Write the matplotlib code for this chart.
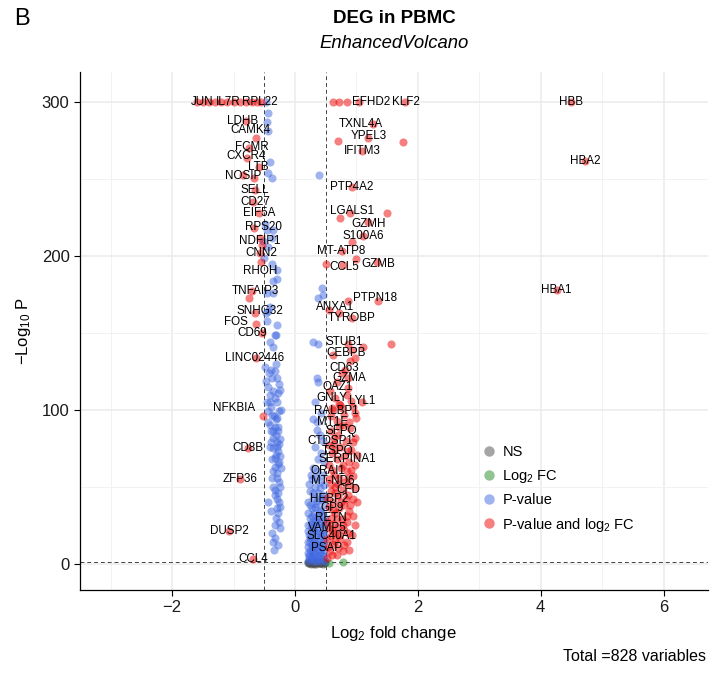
import matplotlib
matplotlib.use('Agg')
import matplotlib.pyplot as plt
from matplotlib.lines import Line2D

plt.rcParams['font.family'] = ['Liberation Sans', 'DejaVu Sans']
plt.rcParams['mathtext.fontset'] = 'custom'
plt.rcParams['mathtext.rm'] = 'Liberation Sans'
plt.rcParams['mathtext.it'] = 'Liberation Sans:italic'

# --- data (log2 fold change, -log10 p) ---
# NS (grey)
ns_x = [0.21, 0.23, 0.25, 0.27, 0.29, 0.31, 0.33, 0.35, 0.37, 0.39, 0.41, 0.43, 0.45, 0.47, 0.49,
        0.22, 0.26, 0.30, 0.34, 0.38, 0.42, 0.46, 0.24, 0.32, 0.40, 0.48]
ns_y = [0.2, 0.6, 1.0, 0.3, 0.8, 0.1, 0.5, 1.1, 0.4, 0.9, 0.2, 0.7, 1.0, 0.3, 0.6,
        1.2, 0.0, 0.9, 0.1, 1.2, 0.4, 0.0, 0.5, 1.2, 0.8, 1.1]

# Log2 FC only (green)
fc_x = [0.55, 0.78]
fc_y = [0.7, 1.0]

# P-value only (blue)
p_x = [-0.47, -0.44, -0.46, -0.44, -0.41, -0.37, -0.44, -0.49, -0.46, -0.37, -0.52, -0.44, -0.50,
       -0.37, -0.29, -0.36, -0.29, -0.46, -0.36, -0.41, -0.44, -0.29, -0.31, -0.41, -0.36, -0.49,
       -0.37, -0.29, -0.44, -0.36, -0.28, -0.41, -0.29, -0.46, -0.37, -0.29, -0.41, -0.33, -0.28,
       -0.36, -0.29, -0.36, -0.28, -0.33, -0.26, -0.33, -0.29, -0.36, -0.28, -0.26, -0.44, -0.29,
       -0.28, -0.26, -0.37, -0.33, -0.36, -0.34,
       -0.39, -0.33, -0.47, -0.26, -0.41, -0.33, -0.23, -0.44, -0.31, -0.39, -0.24, -0.41, -0.31,
       -0.23, -0.37, -0.26, -0.33, -0.39, -0.24, -0.47, -0.46, -0.33, -0.36,
       -0.31, -0.43, -0.25, -0.39, -0.26, -0.34, -0.44, -0.27, -0.35, -0.31, -0.26, -0.39, -0.30,
       -0.25, -0.38, -0.28, -0.35, -0.30, -0.25, -0.33, -0.29, -0.24, -0.31, -0.32, -0.27,
       0.39, 0.44, 0.37, 0.46, 0.29, 0.37, 0.36, 0.37, 0.33, 0.29, 0.36, 0.42, 0.36,
       0.40, 0.45, 0.33, 0.42, 0.38, 0.47, 0.30, 0.36, 0.44, 0.28, 0.40, 0.48, 0.33, 0.25, 0.37, 0.45,
       0.30, 0.42, 0.22, 0.35, 0.48, 0.27, 0.40, 0.31, 0.45, 0.24, 0.37, 0.29, 0.43, 0.33, 0.22, 0.47,
       0.27, 0.38, 0.32, 0.44, 0.23, 0.35, 0.28, 0.41, 0.47, 0.25, 0.33, 0.39, 0.22, 0.30, 0.44, 0.36,
       0.27, 0.41, 0.23, 0.33, 0.47, 0.29, 0.38, 0.25, 0.43, 0.21, 0.35,
       0.26, 0.34, 0.23, 0.41, 0.29, 0.46, 0.36, 0.25, 0.32, 0.43, 0.21, 0.38, 0.27, 0.49, 0.34,
       0.40, 0.26, 0.45, 0.30, 0.21, 0.36, 0.48, 0.25, 0.42, 0.31, 0.38, 0.21, 0.45, 0.28, 0.35,
       0.48, 0.25, 0.40, 0.31, 0.44, 0.21, 0.37, 0.27, 0.49, 0.31, 0.40, 0.23]
p_y = [300, 293, 287, 281, 261, 251, 254, 221, 217, 212, 210, 206, 199,
       195, 191, 184, 185, 176, 176, 167, 164, 155, 149, 144, 141, 128,
       121, 121, 115, 112, 111, 105, 105, 105, 97, 95, 90, 89, 86,
       82, 79, 75, 73, 69, 66, 63, 59, 50, 46, 40, 40, 36,
       33, 27, 20, 17, 14, 9,
       126, 125, 119, 117, 110, 108, 100, 99, 94, 86, 81, 76, 71,
       62, 56, 53, 45, 34, 23, 163, 158, 149, 217,
       130, 124, 113, 102, 99, 96, 92, 89, 86, 84, 78, 79, 76,
       70, 68, 65, 60, 56, 50, 48, 42, 37, 30, 25, 12,
       253, 179, 173, 175, 144, 143, 121, 118, 105, 94, 87, 98, 92,
       84, 80, 76, 72, 68, 66, 62, 60, 58, 55, 53, 51, 50, 47, 46, 45,
       43, 42, 40, 39, 38, 36, 35, 33, 32, 30, 30, 28, 27, 26, 25, 25,
       23, 23, 21, 20, 19, 18, 17, 16, 15, 14, 13, 12, 11, 10, 10, 9,
       8, 7, 6, 6, 5, 4, 4, 3, 3, 2, 2,
       58, 56, 52, 49, 46, 43, 41, 38, 37, 34, 33, 31, 31, 29, 28,
       26, 26, 22, 22, 21, 20, 19, 17, 18, 15, 14, 14, 13, 12, 11,
       9, 9, 9, 7, 6, 7, 5, 5, 2, 2, 1.5, 4.5]

# P-value and log2 FC (red)
both_x = [-1.60, -1.50, -1.40, -1.30, -1.20, -1.10, -1.00, -0.90, -0.80, -0.70, -0.62, -0.55,
          -0.80, -0.63, -0.75, -0.78, -0.59, -0.85, -0.67, -0.65, -0.68, -0.59, -0.67, -0.57, -0.54,
          -0.57, -0.55, -0.70, -0.75, -0.65, -0.63, -0.54, -0.63, -0.52, -0.76, -0.89, -1.07, -0.68,
          0.62, 0.72, 0.85, 1.04, 1.79, 1.27, 1.19, 0.70, 1.76, 1.09, 0.93, 0.89, 0.73, 1.50, 1.19,
          0.93, 1.11, 0.76, 0.51, 0.78, 0.99, 1.33, 4.49, 4.72, 4.26,
          0.86, 1.35, 0.55, 0.71, 0.93, 0.86, 1.11, 1.57, 0.62, 0.89, 0.98, 0.93, 0.81, 0.76, 0.86,
          0.68, 0.86, 0.57, 1.09, 0.73, 0.98, 0.77, 0.60,
          0.85, 0.72, 0.95, 0.62, 0.80, 1.00, 0.68,
          0.78, 0.90, 0.58, 0.70, 0.98, 0.83, 0.64, 0.75, 0.92, 1.01, 0.60, 0.80,
          0.68, 0.88, 0.98, 0.56, 0.75, 0.85, 0.63, 0.95, 0.72, 0.55, 0.82, 0.90, 0.65,
          0.78, 0.58, 0.86, 0.70, 0.95, 1.01, 0.62, 0.80, 0.55, 0.72, 0.88, 0.66, 0.94, 0.58,
          0.76, 0.85, 0.62, 0.70, 0.55, 0.80, 0.93, 0.66, 0.58, 0.74, 0.85, 0.62, 0.54, 0.70,
          0.78, 0.60, 0.52,
          0.66, 0.92, 0.58, 0.88, 0.72, 0.63, 0.94, 0.55, 0.86, 0.66, 0.78, 0.60, 0.92, 0.70,
          0.87, 0.58, 0.97, 0.66, 0.83, 0.53, 0.75, 0.90, 0.62, 0.84, 0.69, 0.53, 0.97, 0.78,
          0.60, 0.87, 0.72, 0.53, 0.65, 0.80, 0.57, 0.68, 0.88]
both_y = [300, 300, 300, 300, 300, 300, 300, 300, 300, 300, 300, 300,
          288, 277, 270, 264, 258, 253, 251, 243, 235, 228, 218, 212, 207,
          202, 196, 177, 173, 163, 156, 150, 134, 96, 75, 55, 21, 3,
          300, 300, 300, 300, 300, 286, 277, 275, 274, 268, 245, 228, 225, 228, 222,
          209, 213, 203, 195, 194, 198, 196, 300, 262, 178,
          171, 171, 165, 163, 160, 143, 141, 143, 136, 132, 134, 139, 126, 124, 121,
          118, 114, 112, 105, 103, 98, 101, 101,
          110, 104, 102, 100, 97, 95, 93,
          90, 88, 86, 84, 82, 80, 78, 76, 74, 71, 72, 70,
          68, 66, 64, 64, 62, 60, 58, 57, 56, 55, 53, 51, 50,
          48, 47, 45, 44, 42, 40, 40, 38, 37, 36, 34, 33, 31, 30,
          29, 27, 26, 24, 23, 22, 19, 20, 18, 16, 14, 13, 11, 10,
          8, 6, 4,
          108, 106, 96, 92, 89, 82, 79, 77, 73, 74, 64, 61, 61, 52,
          56, 52, 49, 46, 42, 43, 40, 38, 35, 31, 29, 27, 25, 25,
          22, 20, 19, 16, 15, 12, 8, 6, 9]

# gene labels and where their text sits
lab_genes = ['JUN', 'IL7R', 'RPL22', 'LDHB', 'CAMK4', 'FCMR', 'CXCR4', 'LTB', 'NOSIP', 'SELL',
             'CD27', 'EIF5A', 'RPS20', 'NDFIP1', 'CNN2', 'RHOH', 'TNFAIP3', 'SNHG32', 'FOS', 'CD69',
             'LINC02446', 'NFKBIA', 'CD8B', 'ZFP36', 'DUSP2', 'CCL4',
             'EFHD2', 'KLF2', 'TXNL4A', 'YPEL3', 'IFITM3', 'PTP4A2', 'LGALS1', 'GZMH', 'S100A6',
             'MT-ATP8', 'CCL5', 'GZMB', 'HBB', 'HBA2', 'HBA1', 'PTPN18', 'ANXA1', 'TYROBP', 'STUB1',
             'CEBPB', 'CD63', 'GZMA', 'OAZ1', 'GNLY', 'LYL1', 'RALBP1', 'MT1E', 'SFPQ', 'CTDSP1',
             'TSPO', 'SERPINA1', 'ORAI1', 'MT-ND6', 'CFD', 'HEBP2', 'GP9', 'RETN', 'VAMP5',
             'SLC40A1', 'PSAP']
lab_x = [-1.51, -1.09, -0.57, -0.85, -0.73, -0.70, -0.80, -0.59, -0.85, -0.65,
         -0.65, -0.59, -0.52, -0.57, -0.54, -0.57, -0.65, -0.57, -0.96, -0.70,
         -0.65, -0.99, -0.76, -0.89, -1.07, -0.68,
         1.24, 1.81, 1.07, 1.20, 1.09, 0.93, 0.93, 1.20, 1.11,
         0.76, 0.81, 1.35, 4.49, 4.72, 4.26, 1.30, 0.65, 0.92, 0.81,
         0.83, 0.80, 0.89, 0.69, 0.60, 1.09, 0.68, 0.62, 0.75, 0.57,
         0.70, 0.86, 0.53, 0.62, 0.87, 0.56, 0.60, 0.58, 0.53,
         0.59, 0.51]
lab_y = [300, 300, 300, 288, 282, 271, 265, 258, 252, 243,
         235, 228, 219, 210, 202, 190, 177, 164, 157, 150,
         134, 101, 75, 55, 21, 3,
         300, 300, 286, 278, 268, 245, 229, 221, 213,
         203, 193, 195, 300, 262, 178, 173, 167, 160, 144,
         137, 127, 121, 115, 108, 106, 99, 92, 86, 80,
         73, 68, 60, 54, 48, 42, 36, 30, 23,
         18, 10]

fig = plt.figure(figsize=(7.2, 6.75), dpi=100)
ax = fig.add_axes([0.111, 0.126, 0.872, 0.767])

cols = ['#4D4D4D', '#228B22', '#4169E1', '#EE0000']
ax.scatter(ns_x, ns_y, s=34, color=cols[0], alpha=0.5, linewidths=0, zorder=3)
ax.scatter(fc_x, fc_y, s=34, color=cols[1], alpha=0.5, linewidths=0, zorder=3)
ax.scatter(p_x, p_y, s=34, color=cols[2], alpha=0.5, linewidths=0, zorder=3)
ax.scatter(both_x, both_y, s=34, color=cols[3], alpha=0.5, linewidths=0, zorder=3)

for g, lx, ly in zip(lab_genes, lab_x, lab_y):
    ax.text(lx, ly, g, fontsize=8.4, ha='center', va='center', color='black', zorder=5)

# cut-offs
ax.axvline(-0.5, color='#444444', ls=(0, (4, 3)), lw=0.7, zorder=2)
ax.axvline(0.5, color='#444444', ls=(0, (4, 3)), lw=0.7, zorder=2)
ax.axhline(1.3, color='#444444', ls=(0, (4, 3)), lw=0.7, zorder=2)

ax.set_xlim(-3.5, 6.72)
ax.set_ylim(-17, 319.5)
ax.set_xticks([-2, 0, 2, 4, 6])
ax.set_yticks([0, 100, 200, 300])
ax.set_xticks([-3, -1, 1, 3, 5], minor=True)
ax.set_yticks([50, 150, 250], minor=True)
ax.grid(True, which='major', color='#EBEBEB', lw=1.1, zorder=0)
ax.grid(True, which='minor', color='#F2F2F2', lw=0.7, zorder=0)
ax.set_axisbelow(True)
for sp in ['top', 'right']:
    ax.spines[sp].set_visible(False)
for sp in ['left', 'bottom']:
    ax.spines[sp].set_color('black')
    ax.spines[sp].set_linewidth(0.9)
ax.tick_params(which='major', labelsize=12, length=4, color='black', labelcolor='#1a1a1a')
ax.tick_params(which='minor', length=0)

ax.set_xlabel('Log$_2$ fold change', fontsize=12, labelpad=6)
ax.set_ylabel('\u2212Log$_{10}$ P', fontsize=12, labelpad=6)

fig.text(0.548, 0.973, 'DEG in PBMC', fontsize=13.5, fontweight='bold', ha='center', va='center')
fig.text(0.548, 0.936, 'EnhancedVolcano', fontsize=13.3, style='italic', ha='center', va='center')
fig.text(0.03, 0.972, 'B', fontsize=17, ha='center', va='center')
fig.text(0.98, 0.016, 'Total =828 variables', fontsize=11.5, ha='right', va='bottom')

handles = [Line2D([], [], marker='o', ls='', color=c, alpha=0.5, markersize=7.5, markeredgewidth=0)
           for c in cols]
ax.legend(handles, ['NS', 'Log$_2$ FC', 'P-value', 'P-value and log$_2$ FC'],
          loc='upper left', bbox_to_anchor=(0.617, 0.305), frameon=False, fontsize=10.5,
          handletextpad=0.3, labelspacing=0.58, handlelength=1.2)

plt.savefig('out.png', dpi=100)
